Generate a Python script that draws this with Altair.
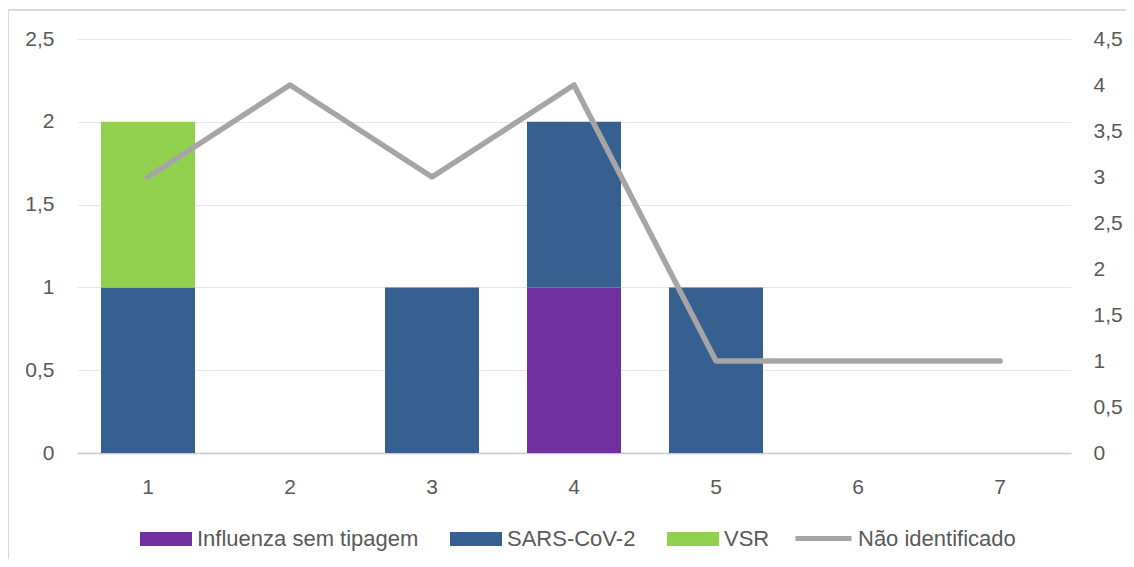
import altair as alt
import pandas as pd

categories = ["1", "2", "3", "4", "5", "6", "7"]
bar_series = ["Influenza sem tipagem", "SARS-CoV-2", "VSR"]
bar_colors = ["#7030A0", "#35608F", "#92D050"]
influenza = [0, 0, 0, 1, 0, 0, 0]
sars = [1, 0, 1, 1, 1, 0, 0]
vsr = [1, 0, 0, 0, 0, 0, 0]
line_series = "Não identificado"
line_color = "#A5A5A5"
nao_identificado = [3, 4, 3, 4, 1, 1, 1]
left_ticks = [0, 0.5, 1, 1.5, 2, 2.5]
right_ticks = [0, 0.5, 1, 1.5, 2, 2.5, 3, 3.5, 4, 4.5]

rows = []
for idx, (name, vals) in enumerate(zip(bar_series, [influenza, sars, vsr])):
    for c, v in zip(categories, vals):
        rows.append({"cat": c, "series": name, "value": v, "idx": idx})
bar_df = pd.DataFrame(rows)
line_df = pd.DataFrame({"cat": categories, "value": nao_identificado, "series": line_series})

FONT = "Liberation Sans"
TXT = "#595959"
W, H = 994, 414

comma = "replace(format(datum.value, '~g'), '.', ',')"

x_enc = alt.X(
    "cat:N", sort=categories,
    scale=alt.Scale(paddingInner=0.338, paddingOuter=0.169),
    axis=alt.Axis(title=None, labelAngle=0, ticks=False, grid=False,
                  domainColor="#C8C8C8", domainWidth=1.5,
                  labelFont=FONT, labelFontSize=21, labelColor=TXT, labelPadding=23),
)

bars = alt.Chart(bar_df).mark_bar().encode(
    x=x_enc,
    y=alt.Y("value:Q", stack="zero", scale=alt.Scale(domain=[0, 2.5]),
            axis=alt.Axis(title=None, orient="left", values=left_ticks, labelExpr=comma,
                          grid=True, gridColor="#E6E6E6", gridWidth=1, domain=False, ticks=False,
                          labelFont=FONT, labelFontSize=21, labelColor=TXT, labelPadding=23)),
    fill=alt.Fill("series:N", scale=alt.Scale(domain=bar_series, range=bar_colors),
                  legend=alt.Legend(title=None, orient="none", legendX=63, legendY=474,
                                    direction="horizontal", symbolType="M-1,-0.27L1,-0.27L1,0.27L-1,0.27Z",
                                    symbolSize=2704, symbolStrokeWidth=0, symbolOpacity=1,
                                    labelFont=FONT, labelFontSize=22, labelColor=TXT,
                                    labelOffset=5, columnPadding=31, labelLimit=400, padding=0)),
    order=alt.Order("idx:Q"),
).transform_filter("datum.value > 0")

line = alt.Chart(line_df).mark_line(strokeWidth=5.5, strokeCap="round", strokeJoin="round").encode(
    x=alt.X("cat:N", sort=categories),
    y=alt.Y("value:Q", scale=alt.Scale(domain=[0, 4.5]),
            axis=alt.Axis(title=None, orient="right", values=right_ticks, labelExpr=comma,
                          grid=False, domain=False, ticks=False,
                          labelFont=FONT, labelFontSize=21, labelColor=TXT, labelPadding=22)),
    stroke=alt.Stroke("series:N", scale=alt.Scale(domain=[line_series], range=[line_color]),
                      legend=alt.Legend(title=None, orient="none", legendX=716, legendY=469,
                                        direction="horizontal", symbolType="stroke",
                                        symbolSize=3136, symbolStrokeWidth=5,
                                        labelFont=FONT, labelFontSize=22, labelColor=TXT,
                                        labelOffset=4, labelLimit=400, padding=0)),
)

frame = alt.Chart(pd.DataFrame({"a": [0]})).mark_rect(
    fill="transparent", stroke="#D9D9D9", strokeWidth=2
).encode(x=alt.value(-69), x2=alt.value(1200), y=alt.value(-29), y2=alt.value(700))

chart = alt.layer(frame, bars, line).resolve_scale(y="independent").properties(
    width=W, height=H,
    background="white",
    autosize=alt.AutoSizeParams(type="none"),
    padding={"left": 69, "top": 31, "right": 55, "bottom": 106},
).configure_view(strokeWidth=0, stroke="transparent")

chart.save("out.html", embed_options={"renderer": "svg", "actions": False})
